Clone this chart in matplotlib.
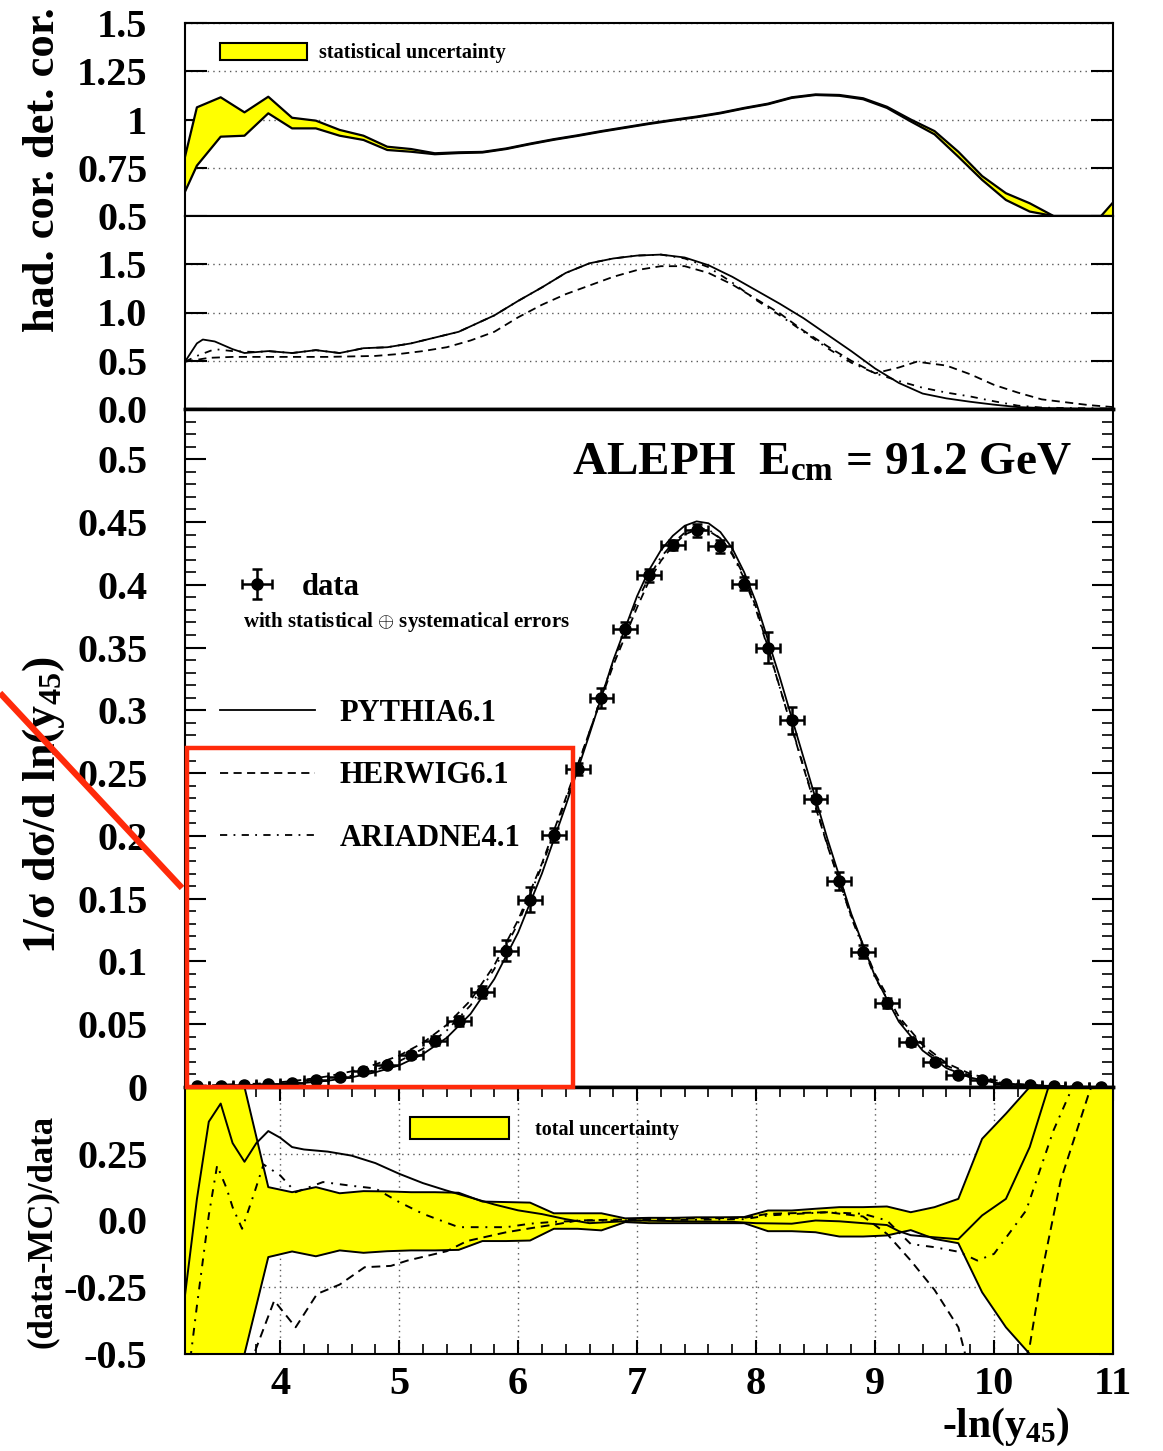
import matplotlib
matplotlib.use("Agg")
import matplotlib.pyplot as plt
from matplotlib.patches import Patch, Rectangle
from matplotlib.lines import Line2D
from matplotlib.ticker import MultipleLocator

plt.rcParams['font.family'] = ['Liberation Serif', 'DejaVu Serif']
plt.rcParams['font.weight'] = 'bold'
plt.rcParams['mathtext.fontset'] = 'custom'
plt.rcParams['mathtext.rm'] = 'Liberation Serif:bold'
plt.rcParams['mathtext.it'] = 'Liberation Serif:bold'
plt.rcParams['mathtext.bf'] = 'Liberation Serif:bold'
plt.rcParams['axes.linewidth'] = 1.5
plt.rcParams['axes.unicode_minus'] = False

# ---- top panel: hadron / detector correction, statistical band
had_x = [3.2, 3.3, 3.5, 3.7, 3.9, 4.1, 4.3, 4.5, 4.7, 4.9, 5.1, 5.3, 5.5, 5.7, 5.9, 6.1, 6.3, 6.5, 6.7, 6.9,
         7.1, 7.3, 7.5, 7.7, 7.9, 8.1, 8.3, 8.5, 8.7, 8.9, 9.1, 9.3, 9.5, 9.7, 9.9, 10.1, 10.3, 10.5, 10.7, 10.9, 11.0]
had_hi = [0.807, 1.063, 1.115, 1.037, 1.118, 1.009, 0.994, 0.946, 0.916, 0.859, 0.847, 0.825, 0.830, 0.832, 0.850,
          0.875, 0.898, 0.918, 0.940, 0.960, 0.980, 0.998, 1.015, 1.035, 1.060, 1.082, 1.115, 1.130, 1.127, 1.110,
          1.066, 1.000, 0.940, 0.833, 0.707, 0.618, 0.566, 0.500, 0.500, 0.500, 0.570]
had_lo = [0.626, 0.761, 0.911, 0.916, 1.032, 0.954, 0.954, 0.916, 0.894, 0.842, 0.833, 0.820, 0.826, 0.829, 0.847,
          0.872, 0.895, 0.915, 0.937, 0.957, 0.977, 0.995, 1.012, 1.032, 1.057, 1.079, 1.112, 1.127, 1.123, 1.105,
          1.060, 0.990, 0.923, 0.807, 0.687, 0.583, 0.523, 0.500, 0.500, 0.500, 0.500]

# ---- second panel: hadronisation corrections of the generators
hc_py_x = [3.2, 3.3, 3.35, 3.45, 3.6, 3.7, 3.9, 4.1, 4.3, 4.5, 4.7, 4.9, 5.1, 5.3, 5.5, 5.8, 6.0, 6.2, 6.4, 6.6,
           6.8, 7.0, 7.2, 7.4, 7.6, 7.8, 8.0, 8.2, 8.4, 8.6, 8.8, 9.0, 9.2, 9.4, 9.6, 9.8, 10.0, 10.2, 10.4, 10.6, 10.8, 11.0]
hc_py = [0.49, 0.68, 0.72, 0.70, 0.62, 0.58, 0.60, 0.58, 0.61, 0.58, 0.63, 0.64, 0.68, 0.74, 0.80, 0.97, 1.12, 1.26,
         1.41, 1.51, 1.56, 1.59, 1.60, 1.57, 1.49, 1.37, 1.23, 1.09, 0.94, 0.77, 0.60, 0.42, 0.27, 0.16, 0.11, 0.075,
         0.045, 0.02, 0.01, 0.005, 0.0, 0.0]
hc_hw_x = [3.2, 3.4, 3.6, 4.0, 4.4, 4.8, 5.0, 5.2, 5.4, 5.6, 5.8, 6.0, 6.2, 6.4, 6.6, 6.8, 7.0, 7.2, 7.4, 7.6,
           7.8, 8.0, 8.2, 8.4, 8.6, 8.8, 9.0, 9.2, 9.35, 9.6, 9.8, 10.0, 10.2, 10.4, 10.6, 10.8, 11.0]
hc_hw = [0.49, 0.53, 0.54, 0.54, 0.54, 0.55, 0.57, 0.60, 0.64, 0.71, 0.80, 0.95, 1.08, 1.19, 1.28, 1.37, 1.44, 1.48,
         1.48, 1.41, 1.29, 1.14, 0.99, 0.81, 0.65, 0.50, 0.37, 0.43, 0.49, 0.45, 0.36, 0.25, 0.17, 0.10, 0.07, 0.04, 0.02]
hc_ar_x = [3.2, 3.3, 3.45, 3.6, 3.8, 3.9, 4.1, 4.3, 4.5, 4.7, 4.9, 5.1, 5.3, 5.5, 5.8, 6.0, 6.2, 6.4, 6.6, 6.8,
           7.0, 7.2, 7.4, 7.6, 7.8, 8.0, 8.2, 8.4, 8.6, 8.8, 9.0, 9.2, 9.4, 9.6, 9.8, 10.0, 10.2, 10.4, 10.6, 11.0]
hc_ar = [0.49, 0.55, 0.62, 0.60, 0.59, 0.60, 0.58, 0.61, 0.58, 0.63, 0.64, 0.68, 0.74, 0.80, 0.97, 1.12, 1.26, 1.41,
         1.51, 1.56, 1.59, 1.60, 1.56, 1.47, 1.31, 1.13, 0.97, 0.80, 0.63, 0.48, 0.37, 0.29, 0.22, 0.17, 0.13, 0.08,
         0.035, 0.015, 0.01, 0.005]

# ---- main panel: data and generator predictions
data_x = [3.3, 3.5, 3.7, 3.9, 4.1, 4.3, 4.5, 4.7, 4.9, 5.1, 5.3, 5.5, 5.7, 5.9, 6.1, 6.3, 6.5, 6.7, 6.9, 7.1,
          7.3, 7.5, 7.7, 7.9, 8.1, 8.3, 8.5, 8.7, 8.9, 9.1, 9.3, 9.5, 9.7, 9.9, 10.1, 10.3, 10.5, 10.7, 10.9]
data_y = [0.0004, 0.0008, 0.0014, 0.0022, 0.0033, 0.0056, 0.0082, 0.0128, 0.0176, 0.0255, 0.0370, 0.0526, 0.0760,
          0.1087, 0.1490, 0.2010, 0.2533, 0.3100, 0.3644, 0.4075, 0.4320, 0.4434, 0.4306, 0.4010, 0.3500, 0.2920,
          0.2290, 0.1640, 0.1077, 0.0670, 0.0360, 0.0196, 0.0096, 0.0053, 0.0025, 0.0012, 0.0005, 0.0002, 0.0001]
data_err = [0.0003, 0.0004, 0.0005, 0.0005, 0.0006, 0.0008, 0.0010, 0.0014, 0.0018, 0.0025, 0.0035, 0.0040, 0.0048,
            0.0080, 0.0100, 0.0055, 0.0045, 0.0080, 0.0060, 0.0050, 0.0040, 0.0050, 0.0050, 0.0050, 0.0125, 0.0110,
            0.0090, 0.0070, 0.0050, 0.0040, 0.0030, 0.0020, 0.0012, 0.0008, 0.0005, 0.0003, 0.0002, 0.0001, 0.0001]
bin_half = 0.1

mc_x = [3.2, 3.4, 3.6, 3.8, 4.0, 4.2, 4.4, 4.6, 4.8, 5.0, 5.2, 5.4, 5.6, 5.8, 6.0, 6.2, 6.4, 6.6, 6.8, 7.0,
        7.1, 7.2, 7.3, 7.4, 7.5, 7.6, 7.7, 7.8, 7.9, 8.0, 8.2, 8.4, 8.6, 8.8, 9.0, 9.2, 9.4, 9.6, 9.8, 10.0,
        10.2, 10.4, 10.6, 10.8, 11.0]
pythia = [0.0002, 0.0003, 0.0007, 0.0012, 0.0019, 0.0032, 0.0050, 0.0077, 0.0117, 0.0172, 0.0262, 0.0392, 0.0582,
          0.0860, 0.1230, 0.1700, 0.2240, 0.2810, 0.3400, 0.3910, 0.4116, 0.4275, 0.4390, 0.4470, 0.4505, 0.4490,
          0.4420, 0.4290, 0.4100, 0.3860, 0.3260, 0.2620, 0.1975, 0.1380, 0.0880, 0.0520, 0.0290, 0.0150, 0.0075,
          0.0035, 0.0015, 0.0006, 0.0002, 0.0001, 0.0]
herwig = [0.0006, 0.0013, 0.0022, 0.0026, 0.0038, 0.0058, 0.0085, 0.0125, 0.0180, 0.0250, 0.0352, 0.0495, 0.0690,
          0.0970, 0.1330, 0.1780, 0.2300, 0.2830, 0.3360, 0.3820, 0.4030, 0.4190, 0.4310, 0.4400, 0.4440, 0.4430,
          0.4370, 0.4250, 0.4070, 0.3820, 0.3180, 0.2540, 0.1920, 0.1360, 0.0900, 0.0560, 0.0335, 0.0190, 0.0105,
          0.0055, 0.0025, 0.0011, 0.0005, 0.0002, 0.0001]
ariadne = [0.0003, 0.0005, 0.0011, 0.0016, 0.0023, 0.0037, 0.0060, 0.0090, 0.0135, 0.0205, 0.0305, 0.0450, 0.0650,
           0.0940, 0.1305, 0.1760, 0.2280, 0.2830, 0.3390, 0.3870, 0.4060, 0.4220, 0.4330, 0.4415, 0.4455, 0.4440,
           0.4370, 0.4240, 0.4050, 0.3800, 0.3180, 0.2550, 0.1930, 0.1350, 0.0870, 0.0540, 0.0310, 0.0170, 0.0090,
           0.0042, 0.0018, 0.0006, 0.0002, 0.0001, 0.0]

# ---- bottom panel: (data-MC)/data and total uncertainty
unc_x = had_x
unc_hi = [1.5, 1.5, 1.0, 0.5, 0.125, 0.106, 0.125, 0.102, 0.110, 0.109, 0.106, 0.106, 0.104, 0.071, 0.069, 0.067,
          0.027, 0.027, 0.027, 0.008, 0.010, 0.010, 0.012, 0.012, 0.013, 0.0375, 0.0375, 0.044, 0.050, 0.050, 0.0525,
          0.031, 0.050, 0.081, 0.306, 0.400, 0.500, 1.0, 1.5, 1.5, 1.5]
unc_lo = [-1.5, -1.5, -1.0, -0.5, -0.137, -0.116, -0.134, -0.112, -0.121, -0.115, -0.112, -0.112, -0.110, -0.077,
          -0.077, -0.075, -0.031, -0.031, -0.037, -0.006, -0.010, -0.010, -0.010, -0.010, -0.010, -0.040, -0.040,
          -0.044, -0.060, -0.060, -0.056, -0.036, -0.069, -0.085, -0.269, -0.400, -0.500, -1.0, -1.5, -1.5, -1.5]

rat_py_x = [3.2, 3.3, 3.4, 3.5, 3.6, 3.7, 3.8, 3.9, 4.0, 4.1, 4.2, 4.4, 4.6, 4.8, 5.0, 5.2, 5.4, 5.6, 5.8, 6.0,
            6.2, 6.4, 6.6, 6.8, 7.0, 7.4, 7.8, 8.0, 8.3, 8.5, 8.7, 8.9, 9.1, 9.2, 9.3, 9.5, 9.7, 9.9, 10.1, 10.3,
            10.5, 10.7, 11.0]
rat_py = [-0.28, 0.08, 0.37, 0.438, 0.29, 0.22, 0.29, 0.335, 0.31, 0.275, 0.266, 0.258, 0.243, 0.215, 0.175, 0.14,
          0.112, 0.086, 0.06, 0.038, 0.024, 0.005, -0.01, -0.005, 0.0, -0.003, -0.005, -0.01, -0.012, 0.0, -0.003,
          -0.01, -0.017, -0.04, -0.055, -0.063, -0.07, 0.019, 0.081, 0.275, 0.56, 0.9, 1.3]
rat_hw_x = [3.2, 3.7, 3.78, 3.95, 4.13, 4.31, 4.5, 4.71, 4.93, 5.07, 5.4, 5.57, 5.9, 6.16, 6.35, 6.5, 7.0, 7.9,
            8.1, 8.6, 8.9, 9.1, 9.3, 9.5, 9.7, 9.9, 10.1, 10.3, 10.4, 10.56, 10.8, 11.0]
rat_hw = [-2.0, -0.8, -0.5, -0.30, -0.40, -0.275, -0.24, -0.175, -0.17, -0.15, -0.115, -0.077, -0.044, -0.025,
          -0.012, 0.0, 0.005, 0.01, 0.025, 0.031, 0.015, -0.05, -0.15, -0.26, -0.40, -0.75, -0.75, -0.47, -0.2,
          0.15, 0.48, 0.7]
rat_ar_x = [3.2, 3.25, 3.3, 3.4, 3.47, 3.55, 3.6, 3.68, 3.78, 3.86, 4.0, 4.13, 4.36, 4.6, 4.8, 5.0, 5.2, 5.5, 5.9,
            6.1, 6.3, 6.6, 7.0, 7.5, 7.9, 8.1, 8.6, 8.9, 9.1, 9.3, 9.5, 9.7, 9.86, 10.0, 10.27, 10.5, 10.66, 10.8]
rat_ar = [-0.9, -0.5, -0.32, 0.02, 0.206, 0.12, 0.05, -0.031, 0.1, 0.21, 0.169, 0.106, 0.144, 0.13, 0.12, 0.069,
          0.025, -0.025, -0.025, -0.012, -0.005, 0.0, 0.0, 0.003, 0.005, 0.019, 0.031, 0.025, 0.0, -0.088, -0.1,
          -0.117, -0.15, -0.125, 0.0375, 0.3375, 0.5, 0.7]

dashed = (0, (4.5, 3))
dashdot = (0, (4, 3.5, 1, 3.5))
yellow = '#ffff00'
red = '#ff2a0a'
gridstyle = dict(ls=(0, (1, 3)), color='0.35', lw=1.0)
ypad = 27

fig = plt.figure(figsize=(11.63, 14.51), dpi=100)
W_PX, H_PX = 1163.0, 1451.0
L, W = 185 / W_PX, 928 / W_PX


def box(top, bot):
    return [L, 1 - bot / H_PX, W, (bot - top) / H_PX]


ax1 = fig.add_axes(box(23, 216))
ax2 = fig.add_axes(box(216, 409))
ax3 = fig.add_axes(box(409, 1087))
ax4 = fig.add_axes(box(1087, 1354))

for ax in (ax1, ax2, ax3, ax4):
    ax.set_xlim(3.2, 11.0)
    ax.set_axisbelow(True)

# top panel
ax1.fill_between(had_x, had_lo, had_hi, color=yellow, lw=0)
ax1.plot(had_x, had_hi, color='black', lw=1.6)
ax1.plot(had_x, had_lo, color='black', lw=1.6)
ax1.set_ylim(0.5, 1.5)
ax1.set_yticks([0.5, 0.75, 1.0, 1.25, 1.5], ['0.5', '0.75', '1', '1.25', '1.5'])
ax1.yaxis.grid(True, **gridstyle)
ax1.tick_params(axis='y', direction='in', length=16, width=1.5, left=True, right=True, labelsize=29, pad=ypad)
ax1.tick_params(axis='x', which='both', bottom=False, top=False, labelbottom=False)
ax1.legend(handles=[Patch(facecolor=yellow, edgecolor='black', lw=1.5)], labels=['statistical uncertainty'],
           loc='center left', bbox_to_anchor=(0.0377, 0.845), frameon=False, fontsize=14.5,
           handlelength=4.3, handleheight=0.95, handletextpad=0.6, borderpad=0, borderaxespad=0)

# second panel
ax2.plot(hc_py_x, hc_py, color='black', lw=1.3)
ax2.plot(hc_hw_x, hc_hw, color='black', lw=1.3, ls=dashed)
ax2.plot(hc_ar_x, hc_ar, color='black', lw=1.3, ls=dashdot)
ax2.set_ylim(0.0, 2.0)
ax2.set_yticks([0.0, 0.5, 1.0, 1.5], ['0.0', '0.5', '1.0', '1.5'])
ax2.yaxis.grid(True, **gridstyle)
ax2.tick_params(axis='y', direction='in', length=16, width=1.5, left=True, right=True, labelsize=29, pad=ypad)
ax2.tick_params(axis='x', which='both', bottom=False, top=False, labelbottom=False)
ax2.spines['bottom'].set_linewidth(2.5)

# main panel
eb = ax3.errorbar(data_x, data_y, xerr=bin_half, yerr=data_err, fmt='o', color='black', ms=8,
                  elinewidth=1.8, capsize=3.5, capthick=1.8, zorder=4)
l1, = ax3.plot(mc_x, pythia, color='black', lw=1.3)
l2, = ax3.plot(mc_x, herwig, color='black', lw=1.3, ls=dashed)
l3, = ax3.plot(mc_x, ariadne, color='black', lw=1.3, ls=dashdot)
ax3.set_ylim(0.0, 0.54)
main_ticks = [0.0, 0.05, 0.1, 0.15, 0.2, 0.25, 0.3, 0.35, 0.4, 0.45, 0.5]
main_labels = ['0', '0.05', '0.1', '0.15', '0.2', '0.25', '0.3', '0.35', '0.4', '0.45', '0.5']
ax3.set_yticks(main_ticks, main_labels)
ax3.yaxis.set_minor_locator(MultipleLocator(0.01))
ax3.tick_params(axis='y', which='major', direction='in', length=15, width=1.5, left=True, right=True,
                labelsize=29, pad=ypad)
ax3.tick_params(axis='y', which='minor', direction='in', length=8, width=1.2, left=True, right=True)
ax3.tick_params(axis='x', which='both', bottom=False, top=False, labelbottom=False)
ax3.spines['top'].set_linewidth(2.5)
ax3.spines['bottom'].set_linewidth(2.5)

leg1 = ax3.legend(handles=[eb], labels=['data'], loc='center left', bbox_to_anchor=(0.0636, 0.737),
                  frameon=False, fontsize=22, handlelength=0.85, handletextpad=1.05, borderpad=0, borderaxespad=0)
ax3.add_artist(leg1)
ax3.legend(handles=[l1, l2, l3], labels=['PYTHIA6.1', 'HERWIG6.1', 'ARIADNE4.1'], loc='center left',
           bbox_to_anchor=(0.0377, 0.459), frameon=False, fontsize=22, handlelength=3.1,
           handletextpad=0.82, labelspacing=1.1, borderpad=0, borderaxespad=0)
ax3.text(0.0625, 0.686, r'with statistical $\oplus$ systematical errors', transform=ax3.transAxes,
         fontsize=15, va='center', ha='left')
ax3.text(0.956, 0.9027, r'ALEPH  $\mathrm{E_{cm}}$ = 91.2 GeV', transform=ax3.transAxes,
         fontsize=34, ha='right', va='baseline')

# bottom panel
ax4.fill_between(unc_x, unc_lo, unc_hi, color=yellow, lw=0, zorder=1)
ax4.plot(unc_x, unc_hi, color='black', lw=1.4, zorder=2)
ax4.plot(unc_x, unc_lo, color='black', lw=1.4, zorder=2)
ax4.plot(rat_py_x, rat_py, color='black', lw=1.4, zorder=3)
ax4.plot(rat_hw_x, rat_hw, color='black', lw=1.4, ls=dashed, zorder=3)
ax4.plot(rat_ar_x, rat_ar, color='black', lw=1.4, ls=dashdot, zorder=3)
ax4.set_ylim(-0.5, 0.5)
ax4.set_yticks([-0.5, -0.25, 0.0, 0.25], ['-0.5', '-0.25', '0.0', '0.25'])
ax4.set_xticks([4, 5, 6, 7, 8, 9, 10, 11], ['4', '5', '6', '7', '8', '9', '10', '11'])
ax4.xaxis.set_minor_locator(MultipleLocator(0.2))
ax4.grid(True, which='major', **gridstyle)
ax4.tick_params(axis='x', which='major', direction='in', length=10, width=1.5, top=True, bottom=True,
                labelsize=29, pad=9)
ax4.tick_params(axis='x', which='minor', direction='in', length=7, width=1.2, top=True, bottom=True)
ax4.tick_params(axis='y', which='major', direction='in', length=10, width=1.5, left=True, right=True,
                labelsize=29, pad=ypad)
ax4.spines['top'].set_linewidth(2.5)
ax4.legend(handles=[Patch(facecolor=yellow, edgecolor='black', lw=1.5)], labels=['total uncertainty'],
           loc='center left', bbox_to_anchor=(0.2425, 0.846), frameon=False, fontsize=14.5,
           handlelength=4.9, handleheight=1.35, handletextpad=1.3, borderpad=0, borderaxespad=0)

# axis titles
fig.text(43 / W_PX, 1 - 170 / H_PX, 'had. cor. det. cor.', rotation=90, ha='center', va='center', fontsize=32)
fig.text(44 / W_PX, 1 - 805 / H_PX, r'1/σ dσ/d ln($\mathrm{y_{45}}$)', rotation=90, ha='center', va='center',
         fontsize=33)
fig.text(42 / W_PX, 1 - 1231 / H_PX, '(data-MC)/data', rotation=90, ha='center', va='center', fontsize=25)
fig.text(1006 / W_PX, 1 - 1427 / H_PX, r'-ln($\mathrm{y_{45}}$)', ha='center', va='center', fontsize=30)

# red highlight overlay
fig.add_artist(Rectangle((187 / W_PX, 1 - 1087 / H_PX), (573 - 187) / W_PX, (1087 - 748) / H_PX,
                         transform=fig.transFigure, fill=False, edgecolor=red, lw=3.2, zorder=10))
fig.add_artist(Line2D([0, 182 / W_PX], [1 - 693 / H_PX, 1 - 888 / H_PX], transform=fig.transFigure,
                      color=red, lw=4.5, solid_capstyle='butt', zorder=10))

fig.savefig('out.png', dpi=100)
